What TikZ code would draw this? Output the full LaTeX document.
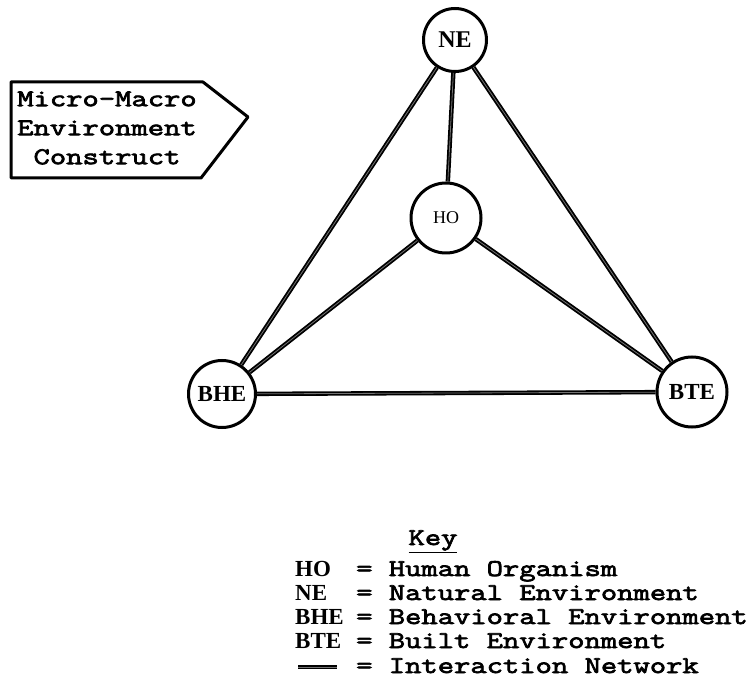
\documentclass[tikz,border=0pt]{standalone}
\usepackage{fontspec}
% slab typewriter face for the running text, serif capitals for the abbreviations
\newfontfamily\typer[FakeStretch=1.32,FakeBold=3]{Latin Modern Mono}
\newfontfamily\lbl{Liberation Serif}
\begin{document}
\begin{tikzpicture}[x=1pt,y=-1pt,
  hub/.style={circle,draw,line width=3pt,inner sep=0pt,
    font=\lbl\bfseries\fontsize{23}{23}\selectfont},
  link/.style={line width=1.8pt,double=black!55,double distance=0.8pt},
  tw/.style={font=\typer\fontsize{24}{29}\selectfont},
  abbr/.style={anchor=base west,inner sep=0pt,
    font=\lbl\bfseries\fontsize{23}{23}\selectfont},
  entry/.style={anchor=base west,inner sep=0pt,tw}]
\useasboundingbox (0,0) rectangle (747,700);

% the four environments
\node[hub,minimum size=63pt,font=\lbl\bfseries\fontsize{24}{24}\selectfont] (NE) at (455,40) {NE};
\node[hub,minimum size=70pt,font=\lbl\fontsize{18}{18}\selectfont] (HO) at (446,218) {HO};
\node[hub,minimum size=67pt] (BHE) at (222,394) {BHE};
\node[hub,minimum size=70pt] (BTE) at (692,392) {BTE};

% interaction network
\draw[link] (NE) -- (HO);
\draw[link] (NE) -- (BHE);
\draw[link] (NE) -- (BTE);
\draw[link] (HO) -- (BHE);
\draw[link] (HO) -- (BTE);
\draw[link] (BHE) -- (BTE);

% pennant label
\node[tw,align=center] (construct) at (107,128) {Micro-Macro\\Environment\\Construct};
\draw[line width=3pt,line join=round]
  (11,82) -- (203,82) -- (248,117) -- (201,178) -- (11,178) -- cycle;

% key
\node[tw,anchor=base,inner sep=0pt] (keytitle) at (433,545) {\underline{Key}};
\node[abbr] (kHO)  at (295,576) {HO};
\node[entry] (mHO) at (356,576) {= Human Organism};
\node[abbr] (kNE)  at (295,600) {NE};
\node[entry] (mNE) at (356,600) {= Natural Environment};
\node[abbr] (kBHE) at (295,624) {BHE};
\node[entry] (mBHE) at (356,624) {= Behavioral Environment};
\node[abbr] (kBTE) at (295,648) {BTE};
\node[entry] (mBTE) at (356,648) {= Built Environment};
\coordinate (s1) at (298,667);
\coordinate (s2) at (337,667);
\draw[link] (s1) -- (s2);
\node[entry] (mNet) at (356,673) {= Interaction Network};
\end{tikzpicture}
\end{document}
